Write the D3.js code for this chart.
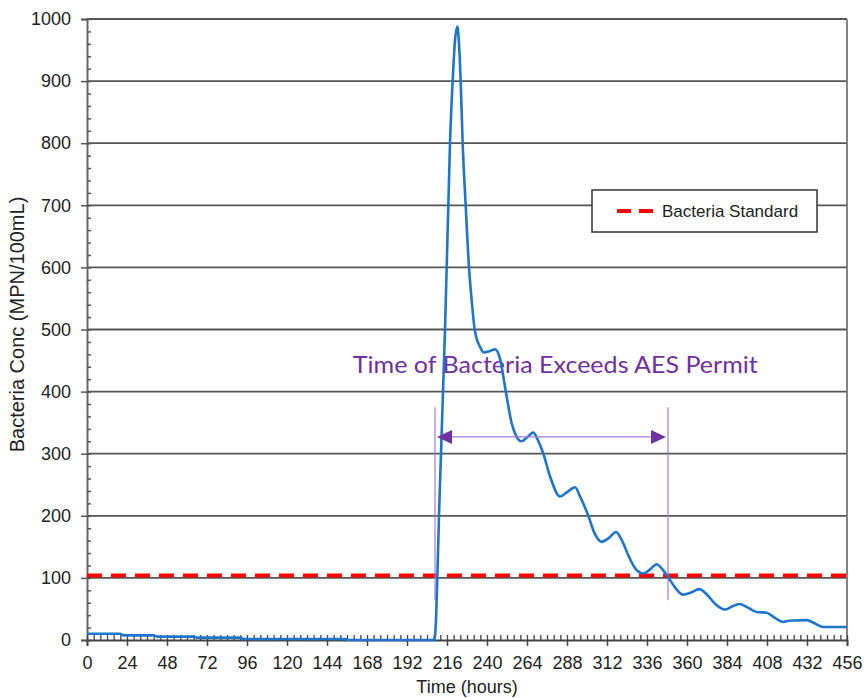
<!DOCTYPE html>
<html>
<head>
<meta charset="utf-8">
<script src="https://cdn.jsdelivr.net/npm/d3@7"></script>
<style>
body { margin: 0; background: #fff; }
</style>
</head>
<body>
<script>
const width  = 864
const height = 698
const margin = {top: 19, right: 17, bottom: 58, left: 87}

// concentration series
const hours = [0,20,22,40,42,64,66,92,94,155,157,208.5,209.5,210.2,211.2,212.4,213.6,214.8,215.8,216.8,217.8,219.4,220.8,222.2,223.2,224.2,225.4,227.2,229.2,230.8,232.6,235.8,238.2,241.5,244.8,247.8,249.8,251.8,254.8,257.8,260.5,264,267.8,270.5,273.8,278,283.8,288,292.8,296,300.8,304.5,308.8,313,317.4,321,325,329,333.8,337.5,341.8,345.5,349,353,357.5,362,367.4,372,377,382.8,387,391.4,396,401.8,407.8,412.5,417.8,421,424.8,431.8,436.5,441.8,448,456]
const conc  = [10,10,7.5,7.5,5.5,5.5,3.8,3.8,1.6,1.6,0,0,40,100,200,300,400,500,600,700,800,900,965,988,960,900,800,700,600,547,500,472,463,465,468,453,424,392,349,327,320,326,334,322,300,262,231,238,246,230,200,172,158,164,174,160,135,115,107,113,122,113,100,84,73,76,82,73,58,49,54,58,53,45,44,36,29,31,31.5,32,27,21,21,21]

const xTicks = d3.range(0, 457, 24)
const xMinor = d3.range(0, 457, 4)
const yTicks = d3.range(0, 1001, 100)
const yMinor = d3.range(0, 1001, 20)

const standard = 104
const standardLabel = "Bacteria Standard"
const exceedStart = 208.8
const exceedEnd = 348.6
const arrowLevel = 327
const bracketTop = 375
const bracketBottom = 64
const note = "Time of Bacteria Exceeds AES Permit"
const noteAt = [281, 430]

const x = d3.scaleLinear().domain([0, 456]).range([margin.left, width - margin.right])
const y = d3.scaleLinear().domain([0, 1000]).range([height - margin.bottom, margin.top])

const svg = d3.create("svg")
	.attr("width", width)
	.attr("height", height)
	.attr("viewBox", [0, 0, width, height])
	.style("font-family", "Arial, 'Liberation Sans', sans-serif")

//gridlines
svg.append("g")
	.attr("stroke", "#555")
	.attr("stroke-width", 1.8)
.selectAll("line")
.data(yTicks.filter(d => d > 0))
.join("line")
	.attr("x1", x(0))
	.attr("x2", x(456))
	.attr("y1", d => y(d))
	.attr("y2", d => y(d))

//right border
svg.append("line")
	.attr("x1", x(456)).attr("x2", x(456))
	.attr("y1", y(0)).attr("y2", y(1000))
	.attr("stroke", "#777")
	.attr("stroke-width", 1.8)

//y axis
svg.append("g")
	.attr("transform", `translate(${x(0)},0)`)
	.call(d3.axisLeft(y).tickValues(yTicks).tickFormat(d3.format("d")).tickSize(6).tickPadding(10))
	.call(g => g.select(".domain").attr("stroke", "#666").attr("stroke-width", 2))
	.call(g => g.selectAll(".tick line").attr("stroke", "#555").attr("stroke-width", 1.5))
	.call(g => g.selectAll("text").attr("font-size", 18).attr("font-family", "Arial, 'Liberation Sans', sans-serif").attr("fill", "#222"))

svg.append("g")
	.attr("transform", `translate(${x(0)},0)`)
	.call(d3.axisRight(y).tickValues(yMinor).tickSize(4).tickFormat(""))
	.call(g => g.select(".domain").remove())
	.call(g => g.selectAll(".tick line").attr("stroke", "#555").attr("stroke-width", 1.5))

//x axis
svg.append("g")
	.attr("transform", `translate(0,${y(0)})`)
	.call(d3.axisBottom(x).tickValues(xTicks).tickFormat(d3.format("d")).tickSize(6).tickPadding(10))
	.call(g => g.select(".domain").attr("stroke", "#444").attr("stroke-width", 1.8))
	.call(g => g.selectAll(".tick line").attr("stroke", "#444").attr("stroke-width", 1.5))
	.call(g => g.selectAll("text").attr("font-size", 18).attr("font-family", "Arial, 'Liberation Sans', sans-serif").attr("fill", "#222"))

svg.append("g")
	.attr("transform", `translate(0,${y(0)})`)
	.call(d3.axisTop(x).tickValues(xMinor).tickSize(5).tickFormat(""))
	.call(g => g.select(".domain").remove())
	.call(g => g.selectAll(".tick line").attr("stroke", "#444").attr("stroke-width", 1.3))

//axis titles
svg.append("text")
	.attr("x", (x(0) + x(456)) / 2)
	.attr("y", 693)
	.attr("text-anchor", "middle")
	.attr("font-size", 18)
	.attr("fill", "#222")
	.text("Time (hours)")

svg.append("text")
	.attr("transform", `translate(24,${(y(0) + y(1000)) / 2 - 5}) rotate(-90)`)
	.attr("text-anchor", "middle")
	.attr("font-size", 20)
	.attr("fill", "#222")
	.text("Bacteria Conc (MPN/100mL)")

//standard line
svg.append("line")
	.attr("x1", x(0)).attr("x2", x(456))
	.attr("y1", y(standard)).attr("y2", y(standard))
	.attr("stroke", "#ff0000")
	.attr("stroke-width", 4)
	.attr("stroke-dasharray", "15,9")

//annotation text and bracket
svg.append("text")
	.attr("x", x(noteAt[0]))
	.attr("y", y(noteAt[1]))
	.attr("text-anchor", "middle")
	.attr("font-family", "Lato, 'Open Sans', sans-serif")
	.attr("font-size", 24)
	.attr("textLength", 405)
	.attr("lengthAdjust", "spacingAndGlyphs")
	.attr("fill", "#7030a0")
	.text(note)

svg.append("g")
	.attr("stroke", "#a47ad8")
	.attr("stroke-width", 1.2)
.selectAll("line")
.data([exceedStart, exceedEnd])
.join("line")
	.attr("x1", d => x(d)).attr("x2", d => x(d))
	.attr("y1", y(bracketTop)).attr("y2", y(bracketBottom))

//concentration line
const line = d3.line()
	.x((d, i) => x(hours[i]))
	.y(d => y(d))
	.curve(d3.curveMonotoneX)

svg.append("path")
	.datum(conc)
	.attr("fill", "none")
	.attr("stroke", "#1f75cc")
	.attr("stroke-width", 2.6)
	.attr("stroke-linejoin", "round")
	.attr("d", line)

//arrow
const ax1 = x(exceedStart) + 2
const ax2 = x(exceedEnd) - 2
const ay = y(arrowLevel)
svg.append("line")
	.attr("x1", ax1 + 10).attr("x2", ax2 - 10)
	.attr("y1", ay).attr("y2", ay)
	.attr("stroke", "#a47ad8")
	.attr("stroke-width", 1.2)

svg.append("path")
	.attr("fill", "#7030a0")
	.attr("d", `M${ax1},${ay}L${ax1 + 15},${ay - 7}L${ax1 + 15},${ay + 7}Z M${ax2},${ay}L${ax2 - 15},${ay - 7}L${ax2 - 15},${ay + 7}Z`)

//legend
const legend = svg.append("g")
	.attr("transform", "translate(592,190)")

legend.append("rect")
	.attr("width", 225)
	.attr("height", 42)
	.attr("fill", "#fff")
	.attr("stroke", "#333")
	.attr("stroke-width", 1.5)

legend.append("line")
	.attr("x1", 25).attr("x2", 61)
	.attr("y1", 21).attr("y2", 21)
	.attr("stroke", "#ff0000")
	.attr("stroke-width", 4)
	.attr("stroke-dasharray", "14,8")

legend.append("text")
	.attr("x", 70)
	.attr("y", 27)
	.attr("font-size", 17)
	.attr("fill", "#222")
	.text(standardLabel)

document.body.append(svg.node())
</script>
</body>
</html>
